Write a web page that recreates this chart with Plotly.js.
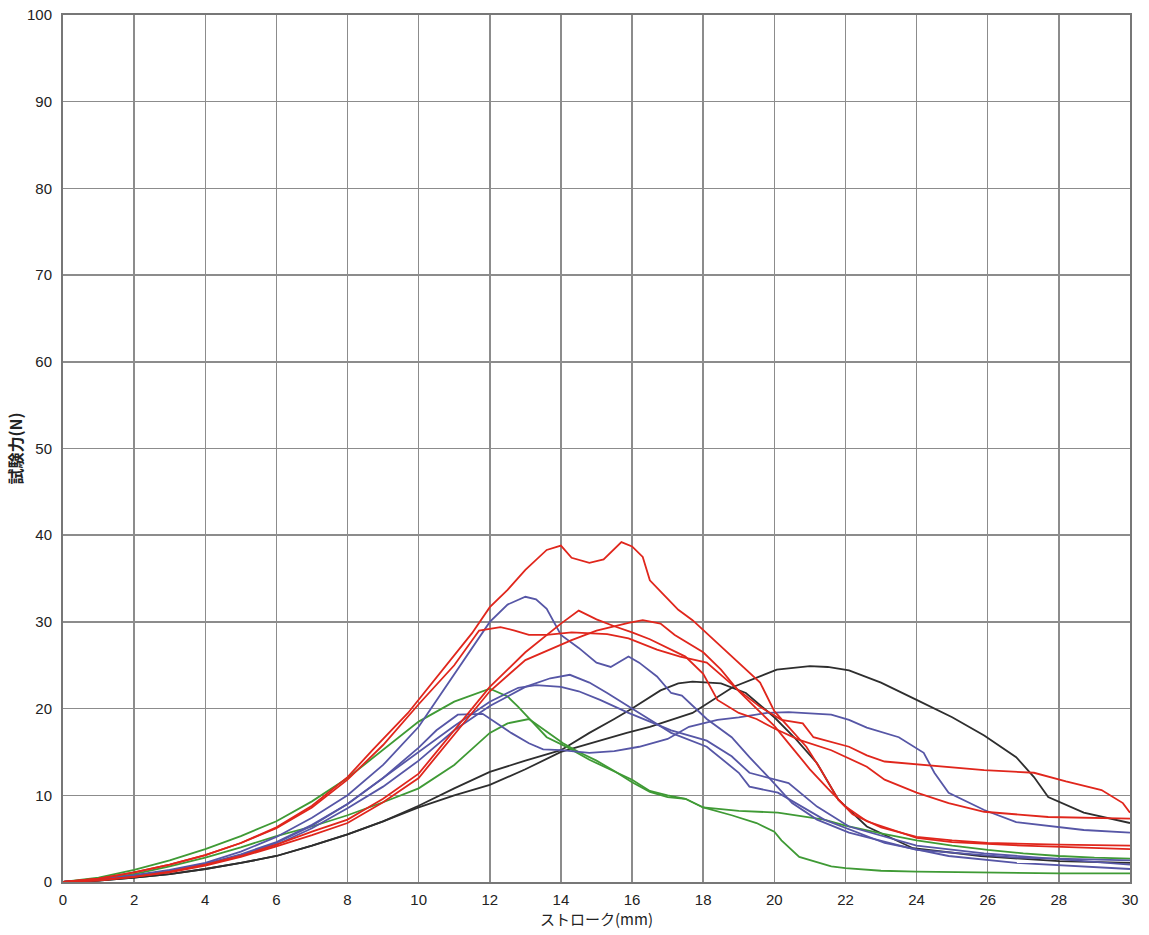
<!DOCTYPE html>
<html>
<head>
<meta charset="utf-8">
<script src="https://cdn.plot.ly/plotly-3.0.1.min.js"></script>
<style>html,body{margin:0;padding:0;background:#fff;}#chart{width:1149px;height:935px;}</style>
</head>
<body>
<div id="chart"></div>
<script>
// ---- data ----
const xTitle = "ストローク(mm)";
const yTitle = "試験力(N)";

const r1X = [0,1,2,3,4,5,6,7,8,8.7,9.7,10.6,11.5,12,12.5,13,13.6,14,14.3,14.8,15.2,15.7,16,16.3,16.5,16.9,17.3,17.7,18.3,19,19.6,20,20.9,21.3,21.8,22.2,23,24,25,26,28,30];
const r1Y = [0,0.4,1.1,2,3.1,4.5,6.3,8.8,12.1,15.2,19.5,24.1,28.7,31.7,33.7,36,38.3,38.8,37.4,36.8,37.2,39.2,38.7,37.5,34.8,33.1,31.4,30.2,27.9,25.3,23,19.7,15.6,13,9.5,7.8,6.3,5.2,4.8,4.5,4.3,4.2];

const r2X = [0,1,2,3,4,5,6,7,8,9,10,11,11.7,12.3,12.7,13.1,13.6,14.3,15.3,15.9,16.7,17.35,18.1,19,19.6,20.2,20.8,21.1,22.1,22.6,23.1,24.5,25.9,27.3,28.2,29.2,29.8,30];
const r2Y = [0,0.4,1.1,2,3.1,4.5,6.2,8.6,11.8,15.8,20.5,25,29,29.4,29,28.5,28.5,28.8,28.6,28.1,26.8,26,25.3,22.1,20.2,18.7,18.3,16.7,15.6,14.6,13.9,13.4,12.9,12.6,11.6,10.6,9.1,8.0];

const r3X = [0,1,2,3,4,5,6,7,8,9,10,11,12,13,14,14.5,15,15.5,16,16.5,17,17.5,18,18.4,19,19.5,20,20.7,21.6,22.6,23.1,24,24.9,25.9,27.7,30];
const r3Y = [0,0.2,0.6,1.2,2,3,4.3,5.8,7.2,9.6,12.5,17.5,22.5,26.5,29.8,31.3,30.3,29.5,28.8,28,27,26,24,21,19.5,18.8,17.7,16.4,15.2,13.3,11.8,10.3,9.1,8.1,7.5,7.3];

const r4X = [0,1,2,3,4,5,6,7,8,9,10,11,12,13,14.3,15,15.9,16.3,16.8,17.2,17.6,18,18.5,19,19.5,20,20.5,21,21.5,22,22.6,23.1,24,25,27,30];
const r4Y = [0,0.2,0.6,1.1,1.9,2.9,4.1,5.4,6.8,9.2,12,17,22,25.6,27.9,29,29.9,30.2,29.8,28.5,27.5,26.5,24.5,22,20,18,15.5,13,10.8,8.7,7,6.3,5.1,4.6,4.2,3.8];

const b1X = [0,1,2,3,4,5,6,7,8,9,10,11,11.5,12,12.5,13,13.3,13.6,14,14.5,15,15.4,15.9,16.2,16.7,17.1,17.4,18.1,18.8,19.3,19.9,20.5,21.2,22.1,24,26.8,30];
const b1Y = [0,0.3,0.8,1.4,2.2,3.5,5.2,7.4,10,13.5,17.9,24,27.1,30,32,32.9,32.6,31.5,28.5,27,25.3,24.8,26,25.3,23.7,21.8,21.5,18.8,16.7,14.4,11.8,9.1,7.2,5.7,3.7,2.8,2.5];

const b2X = [0,1,2,3,4,5,6,7,8,9,10,11,12,13,13.7,14.25,14.8,15.3,16.2,17.1,18.1,19,19.3,20.1,21.4,23.1,24.9,26.8,30];
const b2Y = [0,0.25,0.7,1.3,2,3,4.3,6.2,8.5,11,14,17.5,20.3,22.5,23.5,23.9,23,21.8,19.5,17.2,15.6,12.6,11,10.3,7.2,4.5,3,2.2,1.5];

const b3X = [0,1,2,3,4,5,6,7,8,9,10,11,12,12.8,13.3,14,14.5,15.1,15.9,17.1,18.1,18.8,19.3,20.4,21.2,22.1,24,25.9,30];
const b3Y = [0,0.25,0.7,1.3,2.1,3.2,4.6,6.6,9,12,15,18,20.8,22.4,22.7,22.5,22,21,19.5,17.5,16.3,14.5,12.6,11.4,8.7,6.4,4.2,3.3,2.0];

const b4X = [0,1,2,3,4,5,6,7,8,9,10,10.5,11.1,11.8,12.6,13.1,13.5,14,14.8,15.5,16.2,17,17.6,18.4,19,19.8,20.4,21.6,22.1,22.6,23.5,24.2,24.5,24.9,25.9,26.8,28.7,30];
const b4Y = [0,0.25,0.7,1.3,2,3.1,4.5,6.5,9,12,15.5,17.5,19.3,19.4,17.2,16,15.3,15.2,14.9,15.1,15.6,16.5,17.9,18.7,19,19.5,19.6,19.3,18.7,17.8,16.7,14.9,12.6,10.3,8.3,6.9,6.0,5.7];

const g1X = [0,1,2,3,4,5,6,7,8,9,10,11,12,12.5,12.8,13.6,14.2,14.8,15.5,16,16.5,17,17.5,18,18.8,19.5,20,20.2,20.7,21.6,22,23,24,26,28,30];
const g1Y = [0,0.5,1.4,2.5,3.8,5.3,7,9.3,12,15.2,18.5,20.8,22.3,21.4,20.2,16.7,15.5,14.1,12.8,11.8,10.5,10,9.6,8.6,7.7,6.8,5.8,4.8,2.9,1.8,1.6,1.3,1.2,1.1,1.0,1.0];

const g2X = [0,1,2,3,4,5,6,7,8,9,10,11,12,12.5,13.1,13.5,14.06,14.5,15,15.5,16,16.5,17,17.5,18,19,20.1,21.4,22,23,24,25,26,27,28,29,30];
const g2Y = [0,0.3,0.9,1.8,2.8,4,5.3,6.4,7.7,9.2,10.8,13.5,17.2,18.3,18.8,17.6,16,15,14,12.8,11.5,10.4,9.8,9.6,8.6,8.2,8.0,7.2,6.5,5.6,4.8,4.2,3.7,3.3,3.0,2.8,2.7];

const k1X = [0,1,2,3,4,5,6,7,8,9,10,11,12,13,14,14.8,15.5,16,16.8,17.3,17.7,18.5,19.2,20,20.6,21.2,21.8,22.6,23.9,25.8,28,30];
const k1Y = [0,0.15,0.5,0.9,1.5,2.2,3,4.2,5.5,7,8.8,10.8,12.7,14,15.2,17.2,18.8,20,22.1,22.9,23.1,22.9,21.8,19,16.5,13.7,9.5,6.4,3.9,3,2.4,2.2];

const k2X = [0,1,2,3,4,5,6,7,8,9,10,10.5,11,12,13,14,15,15.85,16.5,17.7,18.84,20.07,21,21.5,22.1,23,24,25,25.9,26.8,27.3,27.7,28.7,30];
const k2Y = [0,0.15,0.5,0.9,1.5,2.2,3,4.2,5.5,7,8.6,9.3,10,11.2,13,15,16.2,17.2,17.9,19.5,22.5,24.5,24.9,24.8,24.4,23,21,19,16.9,14.4,12.1,9.8,8,6.8];

const xTicks = [0,2,4,6,8,10,12,14,16,18,20,22,24,26,28,30];
const yTicks = [0,10,20,30,40,50,60,70,80,90,100];

// ---- styles ----
const RED = "#e0261c", BLUE = "#5656a6", GREEN = "#3f9a35", BLACK = "#2e2e2e";
const series = [
  [k1X, k1Y, BLACK], [k2X, k2Y, BLACK],
  [g1X, g1Y, GREEN], [g2X, g2Y, GREEN],
  [b1X, b1Y, BLUE], [b2X, b2Y, BLUE], [b3X, b3Y, BLUE], [b4X, b4Y, BLUE],
  [r4X, r4Y, RED], [r3X, r3Y, RED], [r2X, r2Y, RED], [r1X, r1Y, RED]
];
const traces = series.map(s => ({
  x: s[0], y: s[1], type: "scatter", mode: "lines",
  line: {color: s[2], width: 1.8, shape: "linear"},
  hoverinfo: "skip", showlegend: false
}));

const axisFont = {family: "Liberation Sans, Arial, sans-serif", size: 15, color: "#222"};
const layout = {
  width: 1149, height: 935,
  margin: {l: 63, r: 19, t: 15, b: 53},
  paper_bgcolor: "#fff", plot_bgcolor: "#fff",
  showlegend: false,
  xaxis: {
    range: [0, 30], tickvals: xTicks, ticktext: xTicks.map(String),
    showgrid: true, gridcolor: "#8c8c8c", gridwidth: 1.5,
    showline: true, linecolor: "#777", linewidth: 2, mirror: true,
    zeroline: false, ticks: "", tickfont: axisFont, ticklabelstandoff: 3,
    title: {text: xTitle, font: {family: "Noto Sans CJK JP, sans-serif", size: 15, color: "#222"}, standoff: 2}
  },
  yaxis: {
    range: [0, 100], tickvals: yTicks, ticktext: yTicks.map(String),
    showgrid: true, gridcolor: "#8c8c8c", gridwidth: 1.5,
    showline: true, linecolor: "#777", linewidth: 2, mirror: true,
    zeroline: false, ticks: "", tickfont: axisFont, ticklabelstandoff: 6,
    title: {text: yTitle, font: {family: "Noto Sans CJK JP, sans-serif", size: 16, color: "#222", weight: "bold"}, standoff: 0}
  }
};
Plotly.newPlot("chart", traces, layout, {displayModeBar: false, staticPlot: true});
</script>
</body>
</html>
